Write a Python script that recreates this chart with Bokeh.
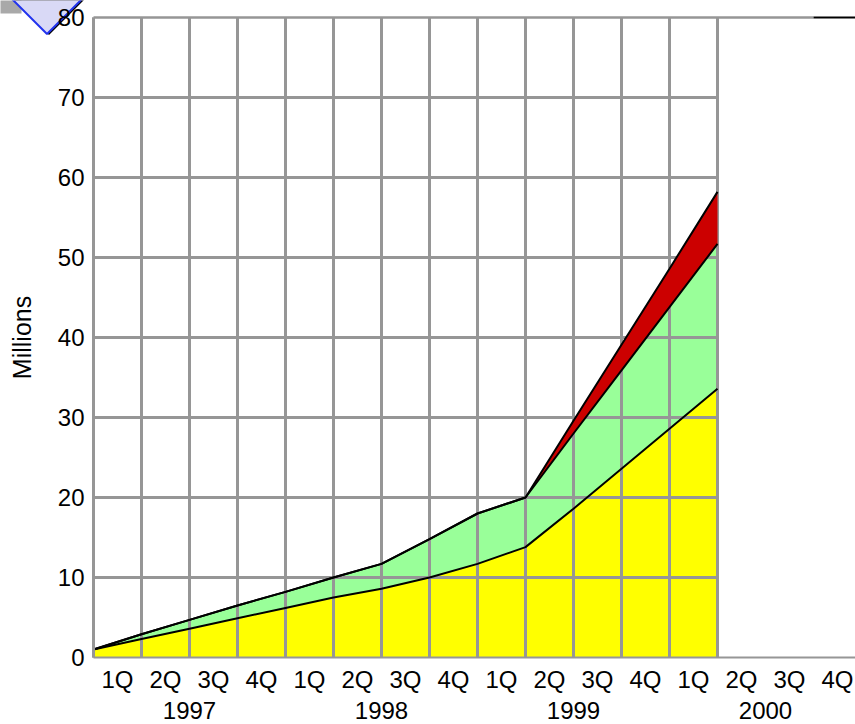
from bokeh.plotting import figure
from bokeh.models import (Range1d, FixedTicker, LinearAxis, ColumnDataSource, PolyAnnotation)
from bokeh.embed import file_html
from bokeh.resources import INLINE

# ---- data ----
quarters = ["1Q", "2Q", "3Q", "4Q"] * 4
years = ["1997", "1998", "1999", "2000"]
y_ticks = [0, 10, 20, 30, 40, 50, 60, 70, 80]
# values at quarter boundaries 0..13
yellow = [1.0, 2.3, 3.6, 4.9, 6.2, 7.5, 8.6, 10.0, 11.7, 13.8, 18.6, 23.6, 28.6, 33.6]
green = [0.0, 0.6, 1.1, 1.6, 2.0, 2.5, 3.1, 4.8, 6.3, 6.2, 9.4, 12.3, 15.2, 18.1]
red = [0.0, 0.0, 0.0, 0.0, 0.0, 0.0, 0.0, 0.0, 0.0, 0.0, 1.6, 3.2, 4.8, 6.5]

n = len(yellow)
xs = list(range(n))
g_top = [a + b for a, b in zip(yellow, green)]
r_top = [a + b for a, b in zip(g_top, red)]
src = ColumnDataSource(dict(x=xs, yellow=yellow, g_top=g_top, r_top=r_top,
                            zero=[0.0] * n))

FONT = "Liberation Sans"
GRID = "#969696"
W, H = 855, 724
PX0, PY0 = 93, 657     # pixel position of data origin
SX, SY = 48.0, 8.0     # pixels per quarter / per million


def dx(px):
    return (px - PX0) / SX


def dy(py):
    return (PY0 - py) / SY


X_END = dx(W)

p = figure(width=W, height=H, x_range=Range1d(dx(0), dx(W)), y_range=Range1d(dy(H), dy(0)),
           output_backend="svg", toolbar_location=None,
           min_border=0, x_axis_type=None, y_axis_location="left")
p.outline_line_color = None
p.xgrid.visible = False
p.ygrid.visible = False
p.background_fill_color = "white"
p.border_fill_color = "white"

# decoration in the top-left corner (behind everything)
p.add_layout(PolyAnnotation(xs=[dx(-5), dx(21), dx(21), dx(-5)],
                            ys=[dy(-5), dy(-5), dy(13), dy(13)],
                            fill_color="#a9a9a9", fill_alpha=1.0, line_color=None,
                            level="underlay"))
R = 62
bx, by = 46.5, 33.5
p.add_layout(PolyAnnotation(xs=[dx(bx + 2), dx(bx + 2 + R), dx(bx + 2), dx(bx + 2 - R)],
                            ys=[dy(by + 1), dy(by + 1 - R), dy(by + 1 - 2 * R), dy(by + 1 - R)],
                            fill_color="black", fill_alpha=1.0, line_color=None,
                            level="underlay"))
p.add_layout(PolyAnnotation(xs=[dx(bx), dx(bx + R), dx(bx), dx(bx - R)],
                            ys=[dy(by), dy(by - R), dy(by - 2 * R), dy(by - R)],
                            fill_color="#d9d9f6", fill_alpha=1.0,
                            line_color="#2233ee", line_width=2, line_alpha=1.0,
                            level="underlay"))

# fills under grid
p.varea(x="x", y1="zero", y2="yellow", source=src, fill_color="#FFFF00")
p.varea(x="x", y1="yellow", y2="g_top", source=src, fill_color="#99FF99")

# grid lines
p.segment(x0=xs, y0=[0] * n, x1=xs, y1=[80] * n, line_color=GRID, line_width=3)
hy = y_ticks[1:-1]
p.segment(x0=[0] * len(hy), y0=hy, x1=[n - 1] * len(hy), y1=hy, line_color=GRID, line_width=3)
# top border
p.segment(x0=[0], y0=[80], x1=[15], y1=[80], line_color=GRID, line_width=2.5)
p.segment(x0=[15], y0=[80], x1=[X_END], y1=[80], line_color="black", line_width=2)

# red band above grid
p.varea(x="x", y1="g_top", y2="r_top", source=src, fill_color="#CC0000")

# outlines
for col in ["yellow", "g_top", "r_top"]:
    p.line(x="x", y=col, source=src, line_color="black", line_width=2)

# y axis
yax = p.yaxis[0]
yax.fixed_location = 0
yax.bounds = (0, 80)
yax.ticker = FixedTicker(ticks=y_ticks)
yax.axis_line_color = GRID
yax.axis_line_width = 3
yax.major_tick_line_color = None
yax.minor_tick_line_color = None
yax.major_tick_out = 0
yax.major_tick_in = 0
yax.major_label_standoff = 9
yax.major_label_text_font = FONT
yax.major_label_text_font_size = "24px"
yax.major_label_text_color = "black"
yax.axis_label = "Millions"
yax.axis_label_text_font = FONT
yax.axis_label_text_font_size = "25px"
yax.axis_label_text_font_style = "normal"
yax.axis_label_text_color = "black"
yax.axis_label_standoff = 19

# quarter axis
q_pos = [i + 0.5 for i in range(len(quarters))]
qax = LinearAxis(ticker=FixedTicker(ticks=q_pos), fixed_location=0, bounds=(0, X_END),
                 major_label_overrides={q: lab for q, lab in zip(q_pos, quarters)})
qax.axis_line_color = GRID
qax.axis_line_width = 2
qax.major_tick_line_color = None
qax.minor_tick_line_color = None
qax.major_tick_out = 0
qax.major_tick_in = 0
qax.major_label_standoff = 8
qax.major_label_text_font = FONT
qax.major_label_text_font_size = "24px"
qax.major_label_text_color = "black"
p.add_layout(qax, "below")

# year axis
y_pos = [4 * i + 2 for i in range(len(years))]
yrax = LinearAxis(ticker=FixedTicker(ticks=y_pos), fixed_location=0,
                  major_label_overrides={q: lab for q, lab in zip(y_pos, years)})
yrax.axis_line_color = None
yrax.major_tick_line_color = None
yrax.minor_tick_line_color = None
yrax.major_tick_out = 0
yrax.major_tick_in = 0
yrax.major_label_standoff = 44
yrax.major_label_text_font = FONT
yrax.major_label_text_font_size = "24px"
yrax.major_label_text_color = "black"
p.add_layout(yrax, "below")

open("out.html", "w").write(file_html(p, INLINE))
